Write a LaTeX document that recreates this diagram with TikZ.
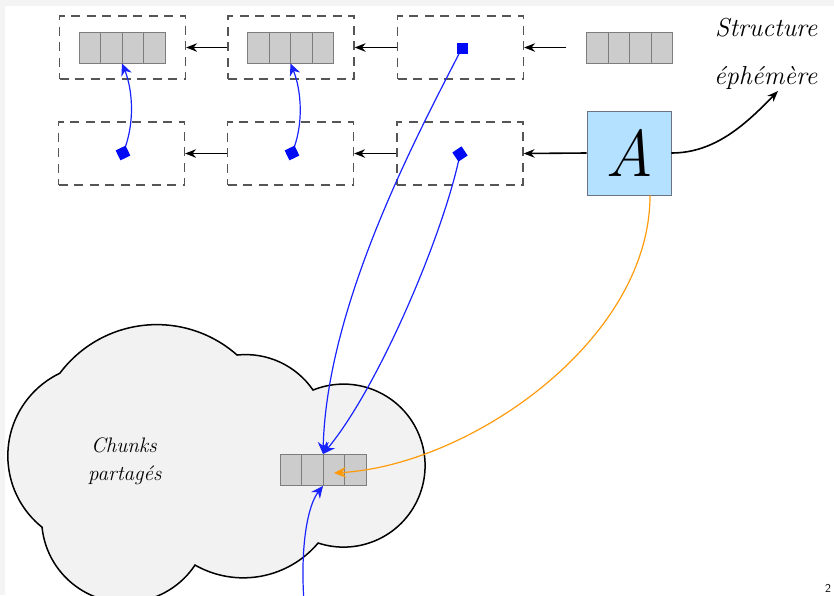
\documentclass[tikz,border=0pt]{standalone}
\usepackage{fontspec}
\usetikzlibrary{arrows.meta,calc}

\definecolor{pagegray}{RGB}{244,244,244}
\definecolor{cellgray}{RGB}{204,204,204}
\definecolor{cellline}{RGB}{125,125,125}
\definecolor{slotline}{RGB}{85,85,85}
\definecolor{ptrblue}{RGB}{25,35,255}
\definecolor{markblue}{RGB}{0,10,245}
\definecolor{aboxfill}{RGB}{179,225,255}
\definecolor{aboxline}{RGB}{105,115,130}
\definecolor{cloudfill}{RGB}{242,242,242}
\definecolor{ptrorange}{RGB}{255,155,10}

\begin{document}
\begin{tikzpicture}[x=1pt,y=1pt,yscale=-1,
  slot/.style={draw=slotline, line width=1.2pt, dash pattern=on 9pt off 6.5pt,
    minimum width=126pt, minimum height=63pt, inner sep=0pt},
  slotghost/.style={minimum width=126pt, minimum height=63pt, inner sep=0pt},
  chunkarr/.style={draw=cellline, fill=cellgray, line width=0.9pt,
    minimum width=86pt, minimum height=31pt, inner sep=0pt,
    path picture={\foreach \k in {0.25,0.5,0.75}{
      \draw[cellline, line width=0.9pt]
        ($(path picture bounding box.south west)!\k!(path picture bounding box.south east)$) --
        ($(path picture bounding box.north west)!\k!(path picture bounding box.north east)$);}}},
  abox/.style={draw=aboxline, fill=aboxfill, line width=0.9pt,
    minimum width=84pt, minimum height=84pt, inner sep=0pt,
    font=\itshape\fontsize{66}{66}\selectfont},
  marker/.style={fill=markblue, minimum size=11pt, inner sep=0pt},
  link/.style={-{Stealth[length=11pt,width=8.5pt]}, line width=1.6pt, black},
  ptr/.style={-{Stealth[length=12pt,width=11pt]}, line width=1.2pt, ptrblue},
  optr/.style={-{Stealth[length=12pt,width=11pt]}, line width=1.2pt, ptrorange},
  hand/.style={inner sep=0pt, font=\itshape\fontsize{26}{30}\selectfont},
  handsmall/.style={inner sep=0pt, font=\itshape\fontsize{21}{24}\selectfont},
  cloudshape/.style={draw=black, fill=cloudfill, line width=1.5pt}
]
\useasboundingbox (0,0) rectangle (834,595);
\clip (0,0) rectangle (834,595);
\fill[pagegray] (0,0) rectangle (834,595);
\fill[white] (5,6) rectangle (834,595);

% shared chunk pool
\draw[cloudshape] (60,373)
  arc[start angle=-143.1, end angle=-48.5, radius=121.1]
  arc[start angle=-96, end angle=-34.5, radius=81.8]
  arc[start angle=-112, end angle=108.2, radius=81.5]
  arc[start angle=40.1, end angle=119.6, radius=97.8]
  arc[start angle=33.6, end angle=174.2, radius=83.7]
  arc[start angle=128.8, end angle=244.5, radius=91.6]
  -- cycle;

% version slots
\node[slot] (b11) at (122.5,47.5) {};
\node[slot] (b12) at (291,47.5) {};
\node[slot] (b13) at (460.5,47.5) {};
\node[slotghost] (b14) at (629.5,47.5) {};
\node[slot] (b21) at (121.5,153.5) {};
\node[slot] (b22) at (290.5,153.5) {};
\node[slot] (b23) at (460,153.5) {};
\node[abox] (A) at (629,153) {A};

% chunk arrays
\node[chunkarr] (k11) at (122,47.5) {};
\node[chunkarr] (k12) at (290.5,47.5) {};
\node[chunkarr] (k14) at (629.5,47.5) {};
\node[chunkarr] (kc) at (323,470) {};

% chain links
\draw[link] (b12.west) -- (b11.east);
\draw[link] (b13.west) -- (b12.east);
\draw[link] (b14.west) -- (b13.east);
\draw[link] (b22.west) -- (b21.east);
\draw[link] (b23.west) -- (b22.east);
\draw[link] (A.west) -- (b23.east);

% pointer markers
\coordinate (m21c) at (123,153);
\coordinate (m22c) at (292,153);
\coordinate (m13c) at (462,48);
\coordinate (m23c) at (460,154);

% pointers into chunks
\draw[ptr] (m21c) .. controls +(12,-28) and +(11,27) .. (k11.south);
\draw[ptr] (m22c) .. controls +(12,-28) and +(11,27) .. (k12.south);
\draw[ptr] (m13c) .. controls +(-42,82) and +(4,-152) .. (kc.north);
\draw[ptr] (m23c) .. controls +(-15,76) and +(57,-69) .. (kc.north);
\coordinate (below) at (304,602);
\draw[ptr] (below) .. controls +(-4,-57) and +(-15,19) .. (kc.south);
\draw[optr] ($(A.south)+(21,0)$) .. controls +(0,145) and +(136,-8) .. ($(kc.center)+(11,3)$);

\node[marker, rotate=26] (m21) at (m21c) {};
\node[marker, rotate=26] (m22) at (m22c) {};
\node[marker] (m13) at (m13c) {};
\node[marker, rotate=34] (m23) at (m23c) {};

% labels
\node[hand, anchor=base west] (lab1) at (715,36) {Structure};
\node[hand, anchor=base west] (lab2) at (714,84) {éphémère};
\coordinate (note) at (778,91);
\draw[link] (A.east) .. controls +(43,0) and +(-33,34) .. (note);

\node[handsmall, anchor=base west] (lab3) at (91,452) {Chunks};
\node[handsmall, anchor=base west] (lab4) at (88,480) {partagés};

\node[anchor=north west, inner sep=0pt, font=\sffamily\fontsize{12}{12}\selectfont] (pg) at (825,584) {2};
\end{tikzpicture}
\end{document}
